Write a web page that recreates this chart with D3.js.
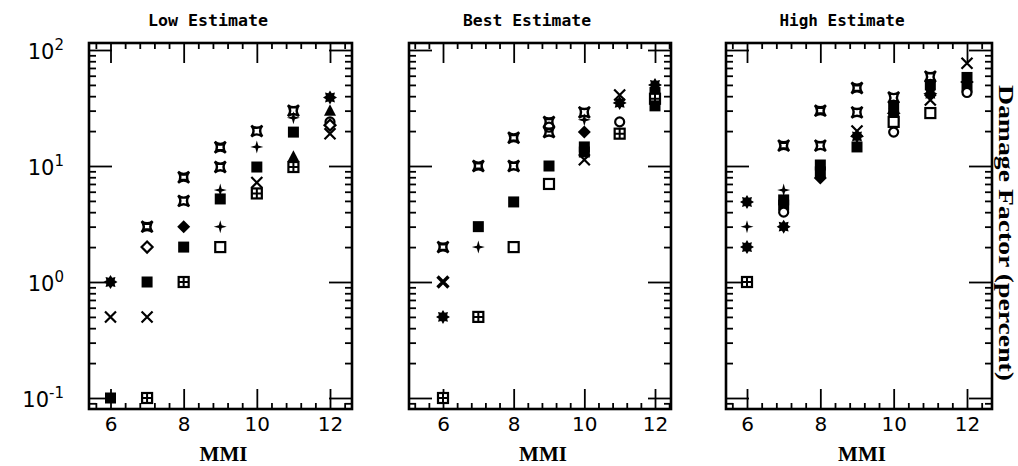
<!DOCTYPE html>
<html>
<head>
<meta charset="utf-8">
<script src="https://cdn.jsdelivr.net/npm/d3@7"></script>
<style>
  body { margin: 0; background: #fff; }
  svg { display: block; }
</style>
</head>
<body>
<script>
// damage factor vs MMI, three estimate panels, log y

const titles = ['Low Estimate', 'Best Estimate', 'High Estimate'];
const xMajor = [6, 8, 10, 12];
const yMajor = [0.1, 1, 10, 100];
const yExp = ['-1', '0', '1', '2'];

// [MMI, damage factor %, marker]
const lowData = [
  [6, 1, 'ast'], [6, 0.5, 'x'], [6, 0.1, 'sq'],
  [7, 3, 'dcx'], [7, 2, 'odia'], [7, 1, 'sq'], [7, 0.5, 'x'], [7, 0.1, 'dsq'],
  [8, 8, 'dcx'], [8, 5, 'cx'], [8, 3, 'dia'], [8, 2, 'sq'], [8, 1, 'dsq'],
  [9, 14.5, 'dcx'], [9, 9.8, 'cx'], [9, 6.2, 'plus'], [9, 5.2, 'sq'], [9, 3, 'plus'], [9, 2, 'osq'],
  [10, 20, 'cx'], [10, 14.6, 'plus'], [10, 9.8, 'sq'], [10, 7.2, 'x'], [10, 5.8, 'dsq'],
  [11, 30, 'cx'], [11, 26, 'plus'], [11, 19.6, 'sq'], [11, 12, 'tri'], [11, 9.8, 'dsq'],
  [12, 39, 'ast'], [12, 30, 'tri'], [12, 24, 'circ'], [12, 22.5, 'odia'], [12, 19, 'x']
];

const bestData = [
  [6, 2, 'dcx'], [6, 1, 'xb'], [6, 0.5, 'ast'], [6, 0.1, 'dsq'],
  [7, 10, 'dcx'], [7, 3, 'sq'], [7, 2, 'plus'], [7, 0.5, 'dsq'],
  [8, 17.5, 'dcx'], [8, 10, 'cx'], [8, 4.9, 'sq'], [8, 2, 'osq'],
  [9, 24, 'dcx'], [9, 21.6, 'circ'], [9, 19.6, 'cx'], [9, 10, 'sq'], [9, 7, 'osq'],
  [10, 29, 'cx'], [10, 25, 'plus'], [10, 19.6, 'dia'], [10, 14.6, 'sq'], [10, 13.2, 'sq'], [10, 11.3, 'x'],
  [11, 41, 'x'], [11, 35, 'ast'], [11, 24, 'circ'], [11, 19, 'dsq'],
  [12, 50, 'ast'], [12, 43, 'sq'], [12, 38, 'dsq'], [12, 33, 'sq']
];

const highData = [
  [6, 4.9, 'ast'], [6, 3, 'plus'], [6, 2, 'ast'], [6, 1, 'dsq'],
  [7, 15, 'dcx'], [7, 6.2, 'plus'], [7, 5.1, 'sq'], [7, 4.6, 'sq'], [7, 4, 'circ'], [7, 3, 'ast'],
  [8, 30, 'dcx'], [8, 15, 'cx'], [8, 10.2, 'sq'], [8, 8.9, 'sq'], [8, 7.9, 'dia'],
  [9, 47, 'dcx'], [9, 29, 'cx'], [9, 20, 'x'], [9, 18, 'ast'], [9, 14.6, 'sq'],
  [10, 39, 'cx'], [10, 32, 'sq'], [10, 28.5, 'ast'], [10, 26.5, 'sq'], [10, 24, 'osq'], [10, 19.6, 'circ'],
  [11, 59, 'cx'], [11, 50, 'sq'], [11, 42, 'ast'], [11, 37, 'x'], [11, 28.6, 'osq'],
  [12, 77, 'x'], [12, 58, 'sq'], [12, 53, 'ast'], [12, 48, 'sq'], [12, 43, 'circ']
];

const datasets = [lowData, bestData, highData];

// frame geometry, scan is a bit uneven so each panel gets its own
const panels = [
  { l: 89, r: 352, x6: 110.5, x12: 330, tx: 208, tw: 120 },
  { l: 409, r: 671, x6: 443, x12: 655, tx: 527, tw: 128 },
  { l: 726, r: 992, x6: 747, x12: 967, tx: 842, tw: 125 }
];
const TOP = 43, BOT = 409;

const svg = d3.select('body').append('svg')
  .attr('width', 1018)
  .attr('height', 466);

const y = d3.scaleLog().domain([0.1, 100]).range([398, 50]);

const yMinor = [];
[0.01, 0.1, 1, 10, 100].forEach(d => {
  for (let k = 2; k <= 9; k++) yMinor.push(k * d);
});
const yMinorIn = yMinor.filter(v => y(v) > TOP + 1 && y(v) < BOT - 1);

const star = (ro, ri, n) => {
  const pts = [];
  for (let i = 0; i < n * 2; i++) {
    const a = Math.PI * i / n - Math.PI / 2;
    const r = i % 2 ? ri : ro;
    pts.push([r * Math.cos(a), r * Math.sin(a)]);
  }
  return 'M' + pts.map(p => p.join(',')).join('L') + 'Z';
};

const astroid = s => `M${-s},${-s}Q0,${-s * 0.2} ${s},${-s}Q${s * 0.2},0 ${s},${s}Q0,${s * 0.2} ${-s},${s}Q${-s * 0.2},0 ${-s},${-s}Z`;

function marker(g, type) {
  const k = '#000';
  switch (type) {
    case 'sq':
      g.append('rect').attr('x', -5.5).attr('y', -5.5).attr('width', 11).attr('height', 11).attr('fill', k);
      break;
    case 'osq':
      g.append('rect').attr('x', -5).attr('y', -5).attr('width', 10).attr('height', 10)
        .attr('fill', '#fff').attr('stroke', k).attr('stroke-width', 2.2);
      break;
    case 'dsq':
      g.append('rect').attr('x', -5).attr('y', -5).attr('width', 10).attr('height', 10)
        .attr('fill', '#fff').attr('stroke', k).attr('stroke-width', 2.2);
      g.append('path').attr('d', 'M0,-5V5M-5,0H5').attr('stroke', k).attr('stroke-width', 2);
      break;
    case 'x':
      g.append('path').attr('d', 'M-5.5,-5.5L5.5,5.5M5.5,-5.5L-5.5,5.5').attr('stroke', k).attr('stroke-width', 2.2);
      break;
    case 'xb':
      g.append('path').attr('d', 'M-5.5,-5.5L5.5,5.5M5.5,-5.5L-5.5,5.5').attr('stroke', k).attr('stroke-width', 3.4);
      break;
    case 'cx':
      g.append('path').attr('d', astroid(5.5)).attr('fill', 'none').attr('stroke', k).attr('stroke-width', 2.4);
      break;
    case 'dcx':
      g.append('path').attr('d', astroid(5.5)).attr('fill', 'none').attr('stroke', k).attr('stroke-width', 2.4);
      g.append('path').attr('d', 'M-3.2,-2.6H3.2M-3.2,2.6H3.2').attr('stroke', k).attr('stroke-width', 2);
      break;
    case 'plus':
      g.append('path').attr('d', star(6.5, 2, 4)).attr('fill', k);
      break;
    case 'dia':
      g.append('path').attr('d', 'M0,-6.5L6.5,0L0,6.5L-6.5,0Z').attr('fill', k);
      break;
    case 'odia':
      g.append('path').attr('d', 'M0,-5.5L5.5,0L0,5.5L-5.5,0Z').attr('fill', '#fff').attr('stroke', k).attr('stroke-width', 2.2);
      break;
    case 'ast':
      g.append('path').attr('d', star(7, 4.5, 8)).attr('fill', k);
      break;
    case 'circ':
      g.append('circle').attr('r', 4.5).attr('fill', '#fff').attr('stroke', k).attr('stroke-width', 2.2);
      break;
    case 'tri':
      g.append('path').attr('d', 'M0,-6.5L6,5L-6,5Z').attr('fill', k);
      break;
  }
}

panels.forEach((p, i) => {
  const x = d3.scaleLinear().domain([6, 12]).range([p.x6, p.x12]);
  const inX = v => x(v) > p.l + 1 && x(v) < p.r - 1;
  const xMinor = d3.range(-3, 17).map(k => 6 + 0.4 * k)
    .filter(v => inX(v) && !xMajor.some(m => Math.abs(m - v) < 1e-6));

  const g = svg.append('g');

  const ax = (axis, tx, ty) => {
    const a = g.append('g').attr('transform', `translate(${tx},${ty})`).call(axis);
    a.select('.domain').remove();
    a.selectAll('line').attr('stroke', '#000').attr('stroke-width', 1.8);
    return a;
  };

  // x ticks, inward from bottom and top
  const xb = ax(d3.axisBottom(x).tickValues(xMajor).tickSize(-20).tickPadding(8)
    .tickFormat(d3.format('d')), 0, BOT);
  xb.selectAll('text')
    .attr('font-family', 'DejaVu Sans')
    .attr('font-size', 20)
    .attr('fill', '#000');
  ax(d3.axisBottom(x).tickValues(xMinor).tickSize(-6).tickFormat(''), 0, BOT);
  ax(d3.axisTop(x).tickValues(xMajor).tickSize(-20).tickFormat(''), 0, TOP);
  ax(d3.axisTop(x).tickValues(xMinor).tickSize(-6).tickFormat(''), 0, TOP);

  // y ticks, inward from both sides
  ax(d3.axisLeft(y).tickValues(yMajor).tickSize(-23).tickFormat(''), p.l, 0);
  ax(d3.axisLeft(y).tickValues(yMinorIn).tickSize(-7).tickFormat(''), p.l, 0);
  ax(d3.axisRight(y).tickValues(yMajor).tickSize(-23).tickFormat(''), p.r, 0);
  ax(d3.axisRight(y).tickValues(yMinorIn).tickSize(-7).tickFormat(''), p.r, 0);

  g.append('rect')
    .attr('x', p.l).attr('y', TOP)
    .attr('width', p.r - p.l).attr('height', BOT - TOP)
    .attr('fill', 'none')
    .attr('stroke', '#000')
    .attr('stroke-width', 2.6);

  g.append('g').selectAll('g')
    .data(datasets[i])
    .join('g')
    .attr('transform', d => `translate(${x(d[0])},${y(d[1])})`)
    .each(function(d) { marker(d3.select(this), d[2]); });

  g.append('text')
    .attr('x', p.tx).attr('y', 26)
    .attr('text-anchor', 'middle')
    .attr('font-family', 'DejaVu Sans Mono')
    .attr('font-weight', 'bold')
    .attr('font-size', 15)
    .attr('textLength', p.tw)
    .attr('lengthAdjust', 'spacingAndGlyphs')
    .attr('fill', '#000')
    .text(titles[i]);

  g.append('text')
    .attr('x', (p.l + p.r) / 2 + 3).attr('y', 461)
    .attr('text-anchor', 'middle')
    .attr('font-family', 'Liberation Serif')
    .attr('font-weight', 'bold')
    .attr('font-size', 21)
    .attr('fill', '#000')
    .text('MMI');
});

// y labels, left of first panel
const yl = svg.append('g').selectAll('text')
  .data(yMajor)
  .join('text')
  .attr('x', 64)
  .attr('y', d => y(d) + 9)
  .attr('text-anchor', 'end')
  .attr('font-family', 'DejaVu Sans')
  .attr('font-size', 21)
  .attr('fill', '#000');
yl.append('tspan').text('10');
yl.append('tspan')
  .attr('dy', -9)
  .attr('font-size', 15)
  .text((d, i) => yExp[i]);

svg.append('text')
  .attr('transform', 'translate(999,233) rotate(90)')
  .attr('text-anchor', 'middle')
  .attr('font-family', 'Liberation Serif')
  .attr('font-weight', 'bold')
  .attr('font-size', 20)
  .attr('textLength', 296)
  .attr('lengthAdjust', 'spacingAndGlyphs')
  .attr('fill', '#000')
  .text('Damage Factor (percent)');
</script>
</body>
</html>
